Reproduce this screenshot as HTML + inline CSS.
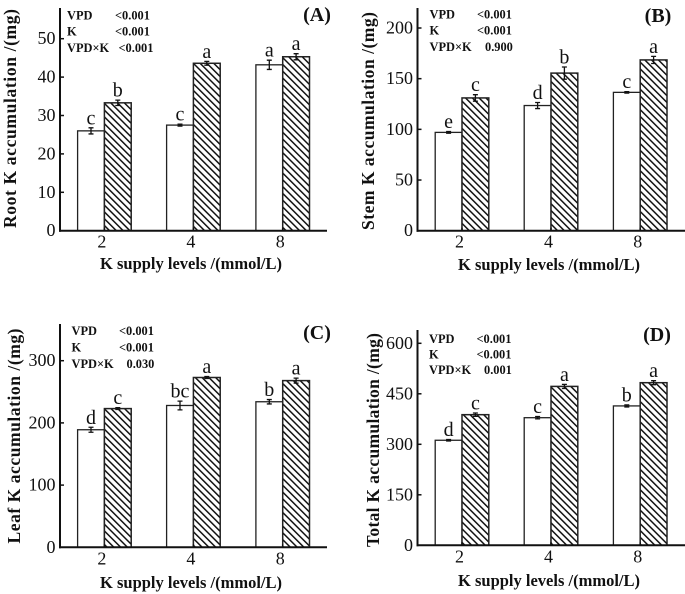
<!DOCTYPE html>
<html lang="en">
<head>
<meta charset="utf-8">
<title>K accumulation charts</title>
<style>
html,body{margin:0;padding:0;background:#fff;}
svg{display:block;filter:blur(0.35px);}
text{font-family:"Liberation Serif",serif;fill:#111;}
.tick{font-size:18px;}
.sig{font-size:20px;text-anchor:middle;}
.title{font-size:16.5px;font-weight:bold;text-anchor:middle;}
.ytitle{font-size:17.5px;}
.stat{font-size:12.4px;font-weight:bold;}
.plabel{font-size:20px;font-weight:bold;text-anchor:middle;}
</style>
</head>
<body>
<svg id="chart" width="685" height="594" viewBox="0 0 685 594" xmlns="http://www.w3.org/2000/svg">
<defs>
<pattern id="hatch" patternUnits="userSpaceOnUse" width="4.8" height="4.8" patternTransform="rotate(-45)">
<rect width="4.8" height="4.8" fill="#fff"></rect>
<rect width="1.5" height="4.8" fill="#111"></rect>
</pattern>
</defs>

<g>
<text class="plabel" x="317" y="21">(A)</text>
<text class="title ytitle" textLength="219" lengthAdjust="spacing" transform="translate(16,118.5) rotate(-90)">Root K accumulation /(mg)</text>
<text class="title" x="191" y="269">K supply levels /(mmol/L)</text>
<text class="stat" x="67" y="19.5">VPD</text>
<text class="stat" x="115" y="19.5">&lt;0.001</text>
<text class="stat" x="67" y="35.5">K</text>
<text class="stat" x="115" y="35.5">&lt;0.001</text>
<text class="stat" x="67" y="52">VPD×K</text>
<text class="stat" x="118.5" y="52">&lt;0.001</text>
</g>

<g>
<text class="plabel" x="658" y="22">(B)</text>
<text class="title ytitle" textLength="218" lengthAdjust="spacing" transform="translate(374,121) rotate(-90)">Stem K accumulation /(mg)</text>
<text class="title" x="549" y="270">K supply levels /(mmol/L)</text>
<text class="stat" x="429.5" y="18.5">VPD</text>
<text class="stat" x="477" y="18.5">&lt;0.001</text>
<text class="stat" x="429.5" y="34.5">K</text>
<text class="stat" x="477" y="34.5">&lt;0.001</text>
<text class="stat" x="429.5" y="51">VPD×K</text>
<text class="stat" x="485" y="51">0.900</text>
</g>

<g>
<text class="plabel" x="317" y="339">(C)</text>
<text class="title ytitle" textLength="215" lengthAdjust="spacing" transform="translate(20,436) rotate(-90)">Leaf K accumulation /(mg)</text>
<text class="title" x="191" y="588">K supply levels /(mmol/L)</text>
<text class="stat" x="71.5" y="335">VPD</text>
<text class="stat" x="119" y="335">&lt;0.001</text>
<text class="stat" x="71.5" y="351.5">K</text>
<text class="stat" x="119" y="351.5">&lt;0.001</text>
<text class="stat" x="71.5" y="368">VPD×K</text>
<text class="stat" x="126.5" y="368">0.030</text>
</g>

<g>
<text class="plabel" x="657" y="341">(D)</text>
<text class="title ytitle" textLength="214" lengthAdjust="spacing" transform="translate(379,440) rotate(-90)">Total K accumulation /(mg)</text>
<text class="title" x="549" y="586">K supply levels /(mmol/L)</text>
<text class="stat" x="429" y="343">VPD</text>
<text class="stat" x="476.5" y="343">&lt;0.001</text>
<text class="stat" x="429" y="358.5">K</text>
<text class="stat" x="476.5" y="358.5">&lt;0.001</text>
<text class="stat" x="429" y="374">VPD×K</text>
<text class="stat" x="484" y="374">0.001</text>
</g>
</svg>

<script>
// Shared categories
const categories = ['2', '4', '8'];

// Panel A: root
const rootControl = [26, 27.5, 43.2];
const rootTreated = [33.3, 43.6, 45.3];
const rootControlErr = [0.8, 0.25, 1.2];
const rootTreatedErr = [0.7, 0.5, 0.8];
const rootControlSig = ['c', 'c', 'a'];
const rootTreatedSig = ['b', 'a', 'a'];
const rootTicks = [0, 10, 20, 30, 40, 50];

// Panel B: stem
const stemControl = [97, 123.5, 136.5];
const stemTreated = [131, 155.5, 168.5];
const stemControlErr = [0.8, 3, 0.7];
const stemTreatedErr = [3.2, 6, 3.5];
const stemControlSig = ['e', 'd', 'c'];
const stemTreatedSig = ['c', 'b', 'a'];
const stemTicks = [0, 50, 100, 150, 200];

// Panel C: leaf
const leafControl = [189, 228, 234];
const leafTreated = [223, 273, 268];
const leafControlErr = [4, 7, 3.5];
const leafTreatedErr = [1.5, 1.5, 4];
const leafControlSig = ['d', 'bc', 'b'];
const leafTreatedSig = ['c', 'a', 'a'];
const leafTicks = [0, 100, 200, 300];

// Panel D: total
const totalControl = [312, 379, 414];
const totalTreated = [388, 472, 483];
const totalControlErr = [2, 3.5, 3];
const totalTreatedErr = [5, 6, 6];
const totalControlSig = ['d', 'c', 'b'];
const totalTreatedSig = ['c', 'a', 'a'];
const totalTicks = [0, 150, 300, 450, 600];

const NS = 'http://www.w3.org/2000/svg';
const root = document.getElementById('chart');

function add(parent, tag, attrs, text) {
  const el = document.createElementNS(NS, tag);
  for (const k in attrs) el.setAttribute(k, attrs[k]);
  if (text !== undefined) el.textContent = text;
  parent.appendChild(el);
  return el;
}

function drawPanel(p) {
  const g = add(root, 'g', {});
  
  

  const yScale = v => p.baseY - (v - 0) * (p.baseY - p.refY) / p.refValue;
  const barX = i => p.groupX[i];
  const barW = 26.8;

  categories.forEach((cat, i) => {
    const cx = barX(i);

    const whiteTop = yScale(p.control[i]);
    const whiteBar = add(g, 'rect', {x: cx - barW, y: whiteTop, width: barW, height: p.baseY - whiteTop, fill: '#fff', stroke: '#222', 'stroke-width': 1.3});
    
    

    const hatchTop = yScale(p.treated[i]);
    const hatchBar = add(g, 'rect', {x: cx, y: hatchTop, width: barW, height: p.baseY - hatchTop, fill: 'url(#hatch)', stroke: '#222', 'stroke-width': 1.5});
    
    

    [[cx - barW / 2, p.control[i], p.controlErr[i], p.controlSig[i], 'control'],
     [cx + barW / 2, p.treated[i], p.treatedErr[i], p.treatedSig[i], 'treated']].forEach(s => {
      const hi = yScale(s[1] + s[2]);
      const lo = yScale(s[1] - s[2]);
      const err = add(g, 'path', {d: 'M' + (s[0] - 2.5) + ' ' + hi + 'H' + (s[0] + 2.5) + 'M' + s[0] + ' ' + hi + 'V' + lo + 'M' + (s[0] - 2.5) + ' ' + lo + 'H' + (s[0] + 2.5), stroke: '#111', 'stroke-width': 1.3, fill: 'none'});
      
      

      const sig = add(g, 'text', {class: 'sig', x: s[0], y: hi - 3.5}, s[3]);
      
      
    });

    const xTick = add(g, 'line', {x1: cx, x2: cx, y1: p.baseY, y2: p.baseY - 3, stroke: '#111', 'stroke-width': 1.5});
    
    

    const xLabel = add(g, 'text', {class: 'tick', x: cx - 2.5, y: p.baseY + 17, 'text-anchor': 'middle'}, cat);
    
    
  });

  const yAxis = add(g, 'line', {x1: p.axisX, x2: p.axisX, y1: p.topY, y2: p.baseY + 1, stroke: '#111', 'stroke-width': 2});
  
  

  const xAxis = add(g, 'line', {x1: p.axisX - 1, x2: p.endX, y1: p.baseY, y2: p.baseY, stroke: '#111', 'stroke-width': 2});
  
  

  p.ticks.forEach(t => {
    const y = yScale(t);
    if (t !== 0) {
      const tick = add(g, 'line', {x1: p.axisX, x2: p.axisX + 4, y1: y, y2: y, stroke: '#111', 'stroke-width': 1.5});
      
      
    }
    const label = add(g, 'text', {class: 'tick', x: p.axisX - 4.5, y: y + 5.5, 'text-anchor': 'end'}, String(t));
    
    
  });
}

drawPanel({id: 'panel-a', axisX: 60, endX: 327, baseY: 230.7, topY: 8, refY: 38.7, refValue: 50, groupX: [104.4, 193.4, 282.7],
  control: rootControl, treated: rootTreated, controlErr: rootControlErr, treatedErr: rootTreatedErr, controlSig: rootControlSig, treatedSig: rootTreatedSig, ticks: rootTicks});
drawPanel({id: 'panel-b', axisX: 417.5, endX: 685, baseY: 230.7, topY: 8, refY: 28, refValue: 200, groupX: [462, 551, 640.2],
  control: stemControl, treated: stemTreated, controlErr: stemControlErr, treatedErr: stemTreatedErr, controlSig: stemControlSig, treatedSig: stemTreatedSig, ticks: stemTicks});
drawPanel({id: 'panel-c', axisX: 60, endX: 327, baseY: 547.3, topY: 324, refY: 360.7, refValue: 300, groupX: [104.4, 193.4, 282.7],
  control: leafControl, treated: leafTreated, controlErr: leafControlErr, treatedErr: leafTreatedErr, controlSig: leafControlSig, treatedSig: leafTreatedSig, ticks: leafTicks});
drawPanel({id: 'panel-d', axisX: 417.5, endX: 685, baseY: 545.3, topY: 330, refY: 343.3, refValue: 600, groupX: [462, 551, 640.2],
  control: totalControl, treated: totalTreated, controlErr: totalControlErr, treatedErr: totalTreatedErr, controlSig: totalControlSig, treatedSig: totalTreatedSig, ticks: totalTicks});
</script>
</body>
</html>
